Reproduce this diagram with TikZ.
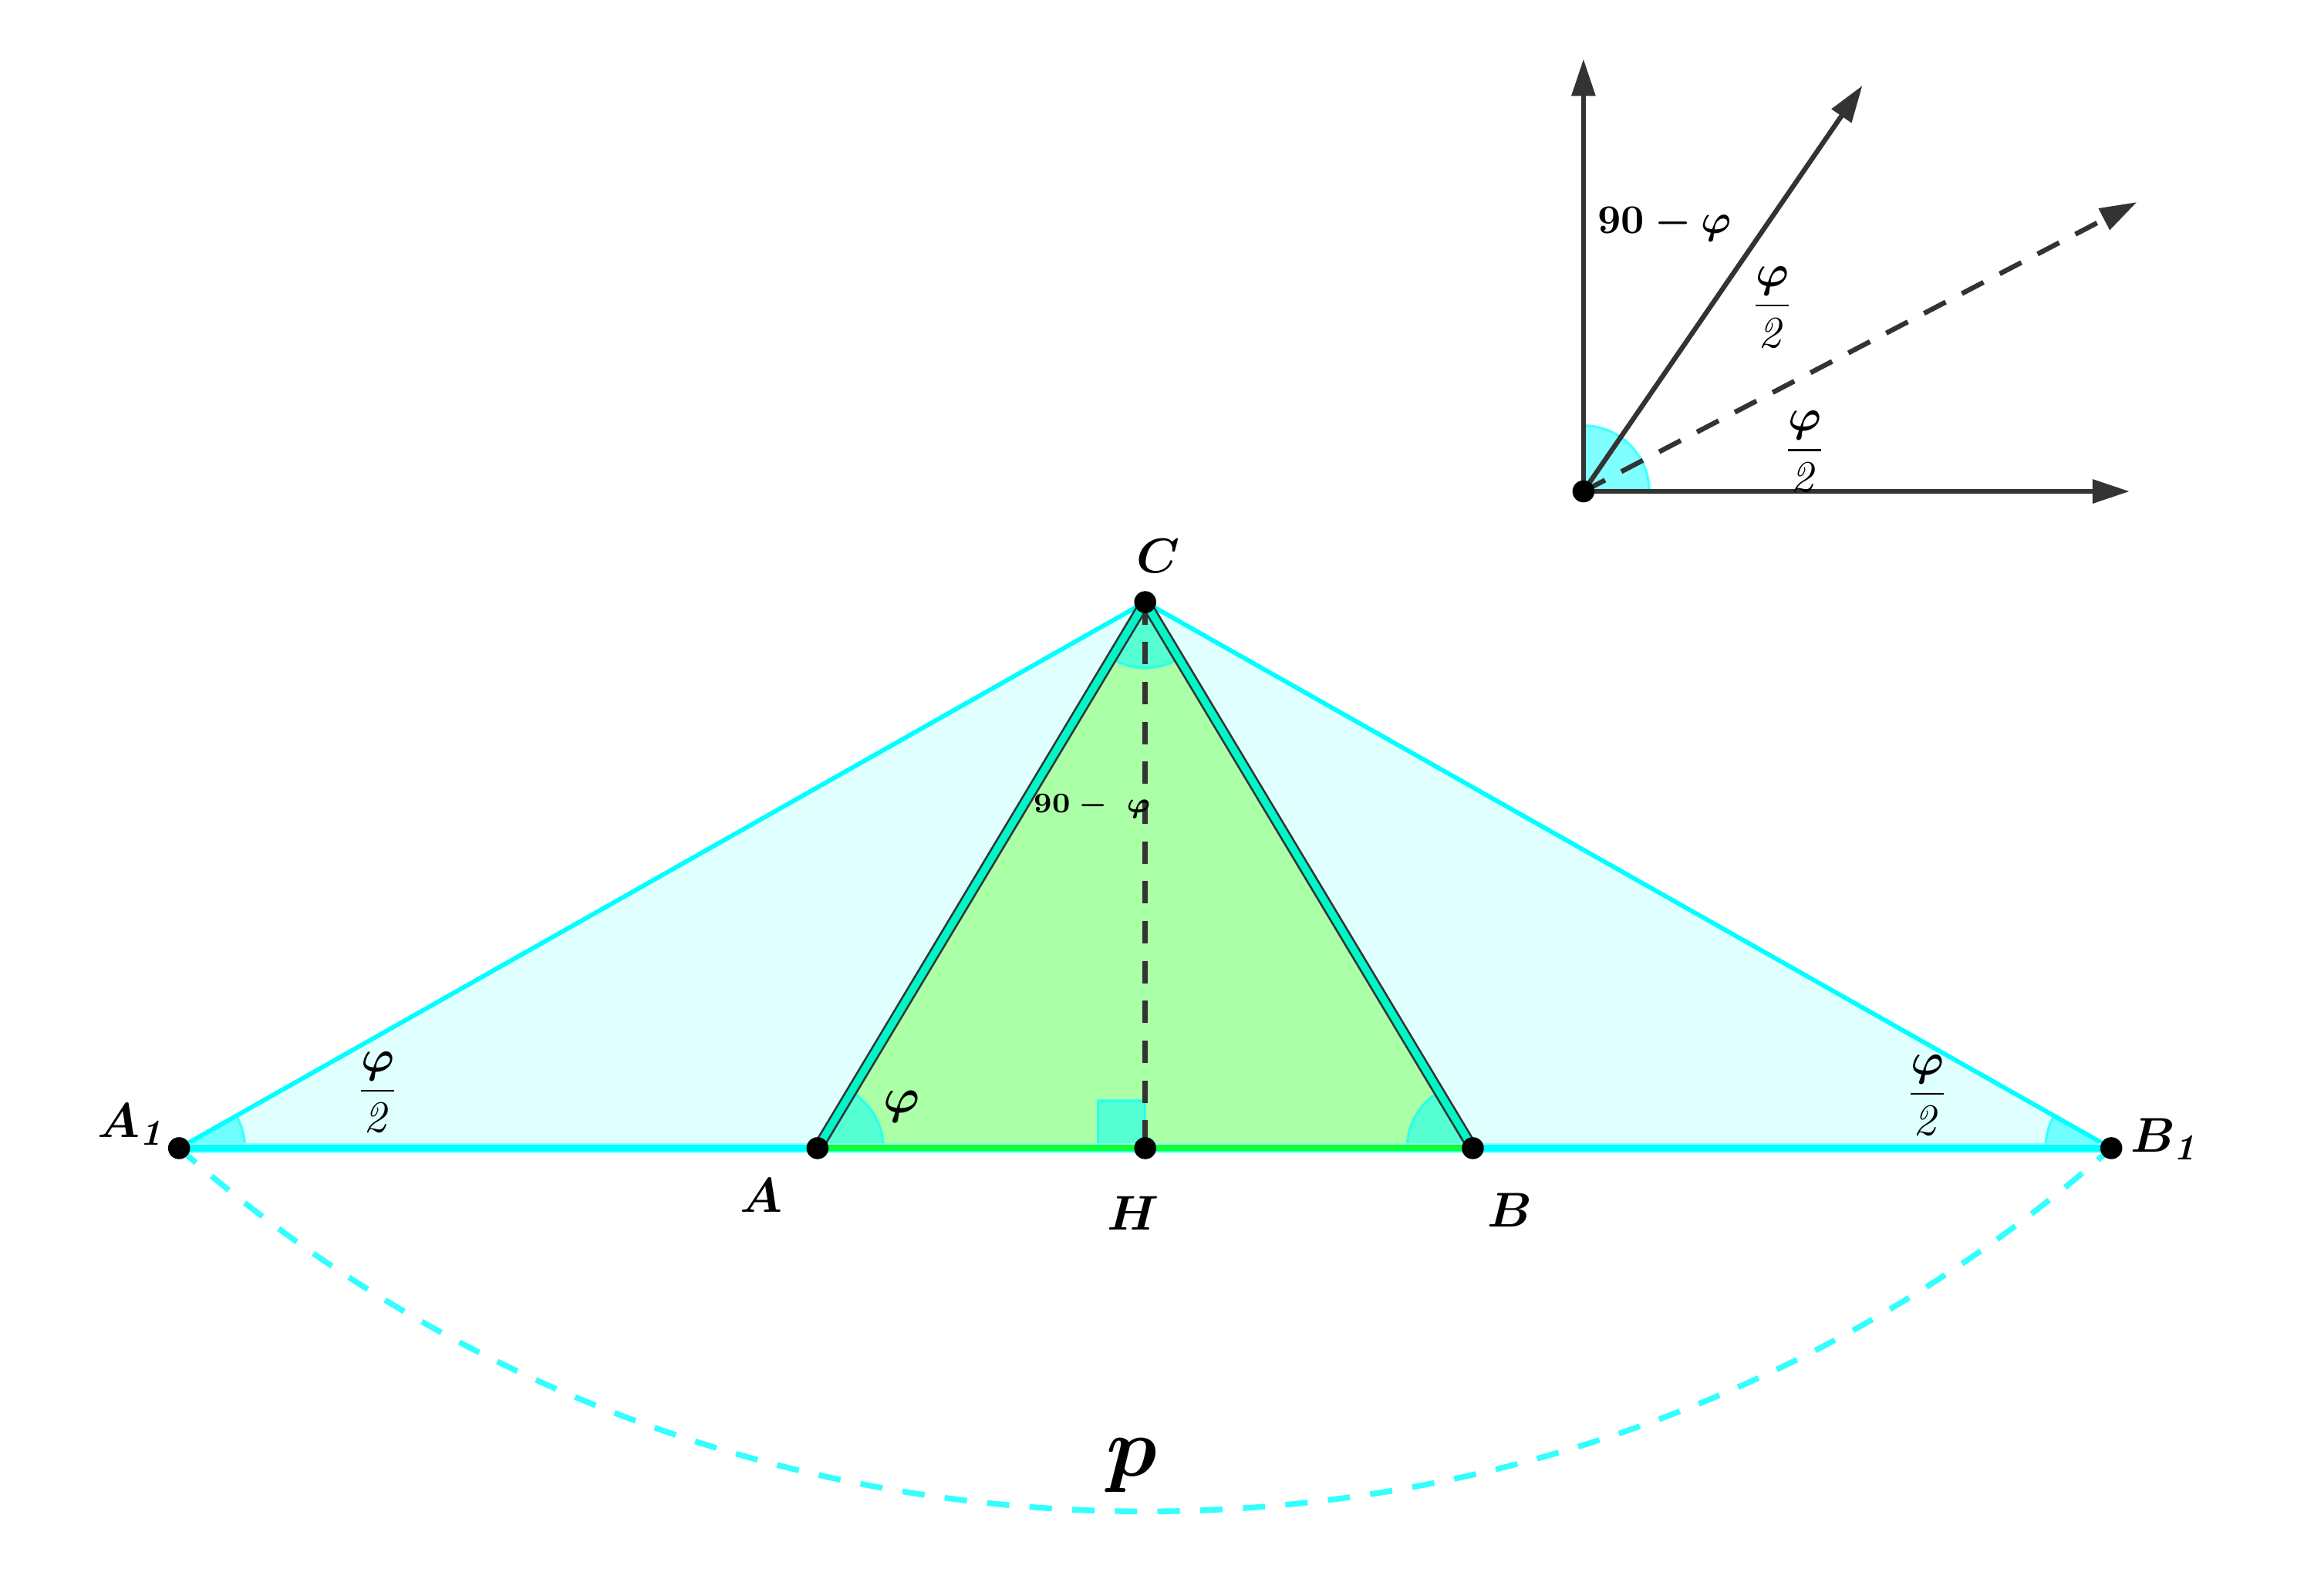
\documentclass[tikz,border=0pt]{standalone}
\usepackage{tikz}
\usepackage{amsmath}
\usetikzlibrary{arrows.meta}
\definecolor{cy}{rgb}{0,1,1}
\definecolor{lcy}{rgb}{0.88,1,1}
\definecolor{lg}{rgb}{0.67,1,0.65}
\definecolor{tq}{rgb}{0,0.96,0.78}
\definecolor{gr}{rgb}{0.06,1,0.19}
\definecolor{dk}{rgb}{0.2,0.2,0.2}

\newcommand{\halfphi}{$\dfrac{\boldsymbol{\varphi}}{\mathit{2}}$}

\begin{document}
\begin{tikzpicture}[
		lbl/.style={font=\fontsize{13}{15}\selectfont\boldmath, inner sep=1pt},
		frc/.style={font=\fontsize{11}{13}\selectfont, inner sep=1pt},
		ang/.style={fill=cy, fill opacity=0.5, draw=cy, draw opacity=0.6, line width=0.6pt},
		side/.style={draw=cy, line width=1.1pt},
		edge/.style={draw=dk, line width=0.5pt, double=tq, double distance=1.8pt},
		arr/.style={draw=dk, line width=1.2pt, -{Triangle[length=3.2mm,width=2mm]}}
	]

	\useasboundingbox (-9.898,-3.87) rectangle (10.102,9.923);

	% points
	\coordinate (H) at (0,0);
	\coordinate (A) at (-2.832,0);
	\coordinate (B) at (2.832,0);
	\coordinate (A1) at (-8.35,0);
	\coordinate (B1) at (8.35,0);
	\coordinate (C) at (0,4.719);

	% triangles
	\fill[lcy] (A1) -- (B1) -- (C) -- cycle;
	\fill[lg] (A) -- (B) -- (C) -- cycle;

	% angles
	\filldraw[ang] (A1) -- ++(0:0.57) arc[start angle=0, end angle=29.47, radius=0.57] -- cycle;
	\filldraw[ang] (B1) -- ++(150.53:0.57) arc[start angle=150.53, end angle=180, radius=0.57] -- cycle;
	\filldraw[ang] (A) -- ++(0:0.57) arc[start angle=0, end angle=59.03, radius=0.57] -- cycle;
	\filldraw[ang] (B) -- ++(120.97:0.57) arc[start angle=120.97, end angle=180, radius=0.57] -- cycle;
	\filldraw[ang] (C) -- ++(239.03:0.57) arc[start angle=239.03, end angle=300.97, radius=0.57] -- cycle;
	\filldraw[ang] (H) rectangle ++(-0.41,0.41);

	% sides
	\draw[side] (A1) -- (C) -- (B1);
	\draw[draw=cy!45, line width=2.6pt] (A1) -- (B1);
	\draw[draw=cy, line width=1.7pt] (A1) -- (B1);
	\draw[draw=gr, line width=1.5pt] (A) -- (B);
	\draw[edge] (A) -- (C) -- (B);
	\draw[draw=dk, line width=1.3pt, dash pattern=on 5.5pt off 4.3pt] (C) -- (H);
	\draw[draw=cy!80, line width=1.4pt, dash pattern=on 5.5pt off 5pt] (A1) to[bend right=41.5, looseness=0.97] (B1);

	\foreach \p in {A1,A,H,B,B1,C} {
		\fill (\p) circle (0.095);
	}

	% labels
	\node[lbl] (lA1) at (-8.75,0.204) {$A_{\mathit{1}}$};
	\node[lbl] (lB1) at (8.827,0.077) {$B_{\mathit{1}}$};
	\node[lbl] (lA) at (-3.316,-0.408) {$A$};
	\node[lbl] (lH) at (-0.102,-0.561) {$H$};
	\node[lbl] (lB) at (3.15,-0.536) {$B$};
	\node[lbl] (lC) at (0.115,5.115) {$C$};
	\node[font=\huge\boldmath] (lp) at (-0.115,-2.742) {$p$};
	\node[lbl] (lphi) at (-2.105,0.357) {$\varphi$};
	\node[font=\scriptsize\boldmath] (lmid) at (-0.459,2.959) {$90 -\ \varphi$};
	\node[frc] (lfl) at (-6.633,0.485) {\halfphi};
	\node[frc] (lfr) at (6.76,0.459) {\halfphi};

	% inset
	\coordinate (O) at (3.788,5.676);
	\coordinate (Oup) at (3.788,9.413);
	\coordinate (Ort) at (8.508,5.676);
	\coordinate (Ophi) at (6.199,9.184);
	\coordinate (Ohalf) at (8.571,8.176);
	\filldraw[ang] (O) -- ++(0:0.57) arc[start angle=0, end angle=90, radius=0.57] -- cycle;
	\draw[arr] (O) -- (Oup);
	\draw[arr] (O) -- (Ort);
	\draw[arr] (O) -- (Ophi);
	\draw[arr, dashed, dash pattern=on 6pt off 4.5pt] (O) -- (Ohalf);
	\fill (O) circle (0.095);
	\node[font=\normalsize\boldmath] (l90) at (4.49,7.985) {$90 - \varphi$};
	\node[frc] (lf1) at (5.421,7.27) {\halfphi};
	\node[frc] (lf2) at (5.701,6.02) {\halfphi};

\end{tikzpicture}
\end{document}
